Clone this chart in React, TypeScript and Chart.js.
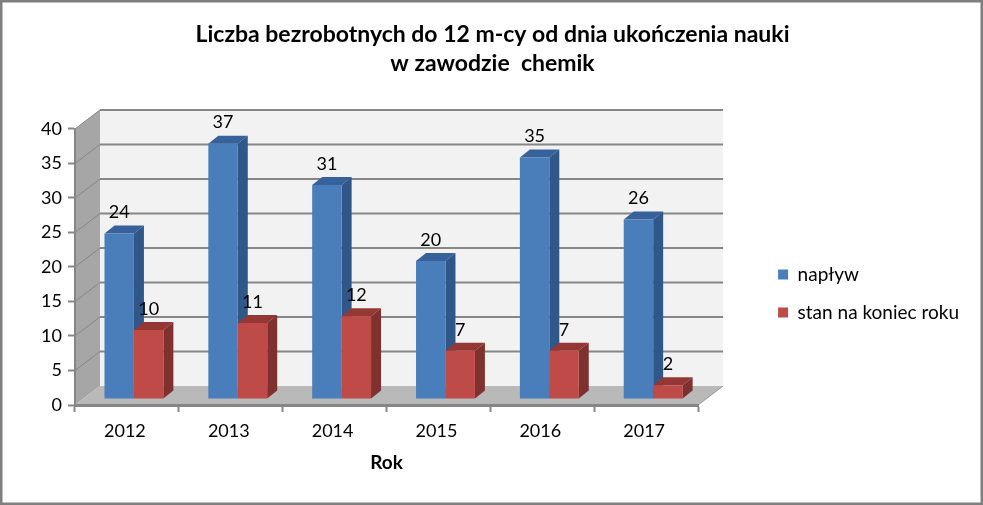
import React, { useEffect, useRef } from "react";
import { Chart, registerables } from "chart.js";

Chart.register(...registerables);

const categories = ["2012", "2013", "2014", "2015", "2016", "2017"];
const naplyw = [24, 37, 31, 20, 35, 26];
const stan = [10, 11, 12, 7, 7, 2];
const titleLines = ["Liczba bezrobotnych do 12 m-cy od dnia ukończenia nauki", "w zawodzie  chemik"];

const FONT = "Lato, Carlito, sans-serif";
const GRID = "#868686";
const BLUE = { front: "#4a7ebb", top: "#37619a", side: "#2f5788" };
const RED = { front: "#be4b48", top: "#953735", side: "#7e312f" };
const FACE = [BLUE, RED];

const WALL = { dx: 25, dy: 19 };
const BAR_SHIFT = { x: 7, y: -6 };
const BAR_DEPTH = { x: 10, y: 8 };
const LEGEND_SHIFT_Y = 41;
const TITLE_SHIFT_X = 8;

function poly(ctx: CanvasRenderingContext2D, pts: number[][], fill: string) {
  ctx.beginPath();
  pts.forEach(([x, y], i) => (i ? ctx.lineTo(x, y) : ctx.moveTo(x, y)));
  ctx.closePath();
  ctx.fillStyle = fill;
  ctx.fill();
}

const scene3d = {
  id: "scene3d",
  afterLayout(chart: any) {
    chart.legend.top += LEGEND_SHIFT_Y;
    chart.legend.bottom += LEGEND_SHIFT_Y;
    chart.titleBlock.left += TITLE_SHIFT_X;
    chart.titleBlock.right += TITLE_SHIFT_X;
  },
  beforeDraw(chart: any) {
    const { ctx, chartArea: a, scales } = chart;
    const { dx, dy } = WALL;
    ctx.save();
    ctx.fillStyle = "#ffffff";
    ctx.fillRect(0, 0, chart.width, chart.height);
    ctx.strokeStyle = "#7f7f7f";
    ctx.lineWidth = 3;
    ctx.strokeRect(1, 1, chart.width - 2, chart.height - 2);
    poly(ctx, [[a.left + dx, a.top - dy], [a.right + dx, a.top - dy], [a.right + dx, a.bottom - dy], [a.left + dx, a.bottom - dy]], "#f2f2f2");
    poly(ctx, [[a.left, a.top], [a.left + dx, a.top - dy], [a.left + dx, a.bottom - dy], [a.left, a.bottom]], "#a6a6a6");
    poly(ctx, [[a.left, a.bottom], [a.right, a.bottom], [a.right + dx, a.bottom - dy], [a.left + dx, a.bottom - dy]], "#b9b9b9");
    ctx.strokeStyle = GRID;
    for (const t of scales.y.ticks) {
      const y = scales.y.getPixelForValue(t.value);
      if (t.value > 0) {
        ctx.lineWidth = 2;
        ctx.beginPath();
        ctx.moveTo(a.left + dx, y - dy);
        ctx.lineTo(a.right + dx, y - dy);
        ctx.stroke();
        ctx.lineWidth = 1;
        ctx.beginPath();
        ctx.moveTo(a.left, y);
        ctx.lineTo(a.left + dx, y - dy);
        ctx.stroke();
      }
    }
    ctx.lineWidth = 1;
    ctx.strokeStyle = "#9a9a9a";
    ctx.beginPath();
    ctx.moveTo(a.right, a.bottom);
    ctx.lineTo(a.right + dx, a.bottom - dy);
    ctx.stroke();
    ctx.restore();
  },
  beforeDatasetsDraw(chart: any) {
    const { ctx } = chart;
    ctx.save();
    ctx.translate(BAR_SHIFT.x, BAR_SHIFT.y);
    chart.data.datasets.forEach((_: any, i: number) => {
      const c = FACE[i];
      for (const el of chart.getDatasetMeta(i).data) {
        const { x, y, base, width } = el.getProps(["x", "y", "base", "width"], true);
        const l = x - width / 2;
        const r = x + width / 2;
        const { x: bx, y: by } = BAR_DEPTH;
        poly(ctx, [[l, y], [r, y], [r + bx, y - by], [l + bx, y - by]], c.top);
        poly(ctx, [[r, y], [r + bx, y - by], [r + bx, base - by], [r, base]], c.side);
      }
    });
  },
  afterDatasetsDraw(chart: any) {
    const { ctx } = chart;
    ctx.restore();
    ctx.save();
    ctx.fillStyle = "#000000";
    ctx.font = `18px ${FONT}`;
    ctx.textAlign = "center";
    ctx.textBaseline = "middle";
    chart.data.datasets.forEach((ds: any, i: number) => {
      chart.getDatasetMeta(i).data.forEach((el: any, j: number) => {
        ctx.fillText(String(ds.data[j]), el.x + BAR_SHIFT.x, el.y + BAR_SHIFT.y - 21);
      });
    });
    ctx.restore();
  },
};

export default function App() {
  const ref = useRef<HTMLCanvasElement>(null);
  useEffect(() => {
    const chart = new Chart(ref.current!, {
      type: "bar",
      data: {
        labels: categories,
        datasets: [
          { label: "napływ", data: naplyw, backgroundColor: BLUE.front, clip: false } as any,
          { label: "stan na koniec roku", data: stan, backgroundColor: RED.front, clip: false } as any,
        ],
      },
      options: {
        responsive: false,
        animation: false,
        devicePixelRatio: 1,
        layout: { padding: { left: 0, right: 14, top: 0, bottom: 0 } },
        datasets: { bar: { categoryPercentage: 0.567, barPercentage: 1 } },
        plugins: {
          title: {
            display: true,
            text: titleLines,
            color: "#000000",
            font: { family: FONT, size: 23, weight: "bold", lineHeight: 1.26 },
            padding: { top: 20, bottom: 51 },
          },
          legend: {
            position: "right",
            maxWidth: 300,
            labels: {
              boxWidth: 10,
              boxHeight: 10,
              padding: 19,
              color: "#000000",
              font: { family: FONT, size: 19 },
            },
          },
          tooltip: { enabled: false },
        },
        scales: {
          x: {
            afterFit: (s: any) => { s.height = 100; },
            border: { color: GRID, width: 3 },
            grid: { drawOnChartArea: false, tickLength: 7, tickColor: GRID, tickWidth: 2 },
            ticks: { color: "#000000", padding: 8, labelOffset: -2, font: { family: FONT, size: 18 }, maxRotation: 0 },
            title: {
              display: true,
              text: "Rok",
              color: "#000000",
              font: { family: FONT, size: 19, weight: "bold" },
              padding: { top: 0, bottom: 31 },
            },
          },
          y: {
            min: 0,
            max: 40,
            afterFit: (s: any) => { s.width = 75; },
            border: { color: GRID, width: 2 },
            grid: { drawOnChartArea: false, tickLength: 7, tickColor: GRID, tickWidth: 2 },
            ticks: { stepSize: 5, color: "#000000", padding: 6, font: { family: FONT, size: 18 } },
          },
          spacer: {
            position: "right",
            display: true,
            afterFit: (s: any) => { s.width = 61; },
            border: { display: false },
            grid: { display: false },
            ticks: { display: false },
          },
        },
      },
      plugins: [scene3d],
    } as any);
    return () => chart.destroy();
  }, []);
  return (
    <div style={{ position: "fixed", left: 0, top: 0, width: 983, height: 505 }}>
      <canvas ref={ref} width={983} height={505} style={{ display: "block" }} />
    </div>
  );
}
